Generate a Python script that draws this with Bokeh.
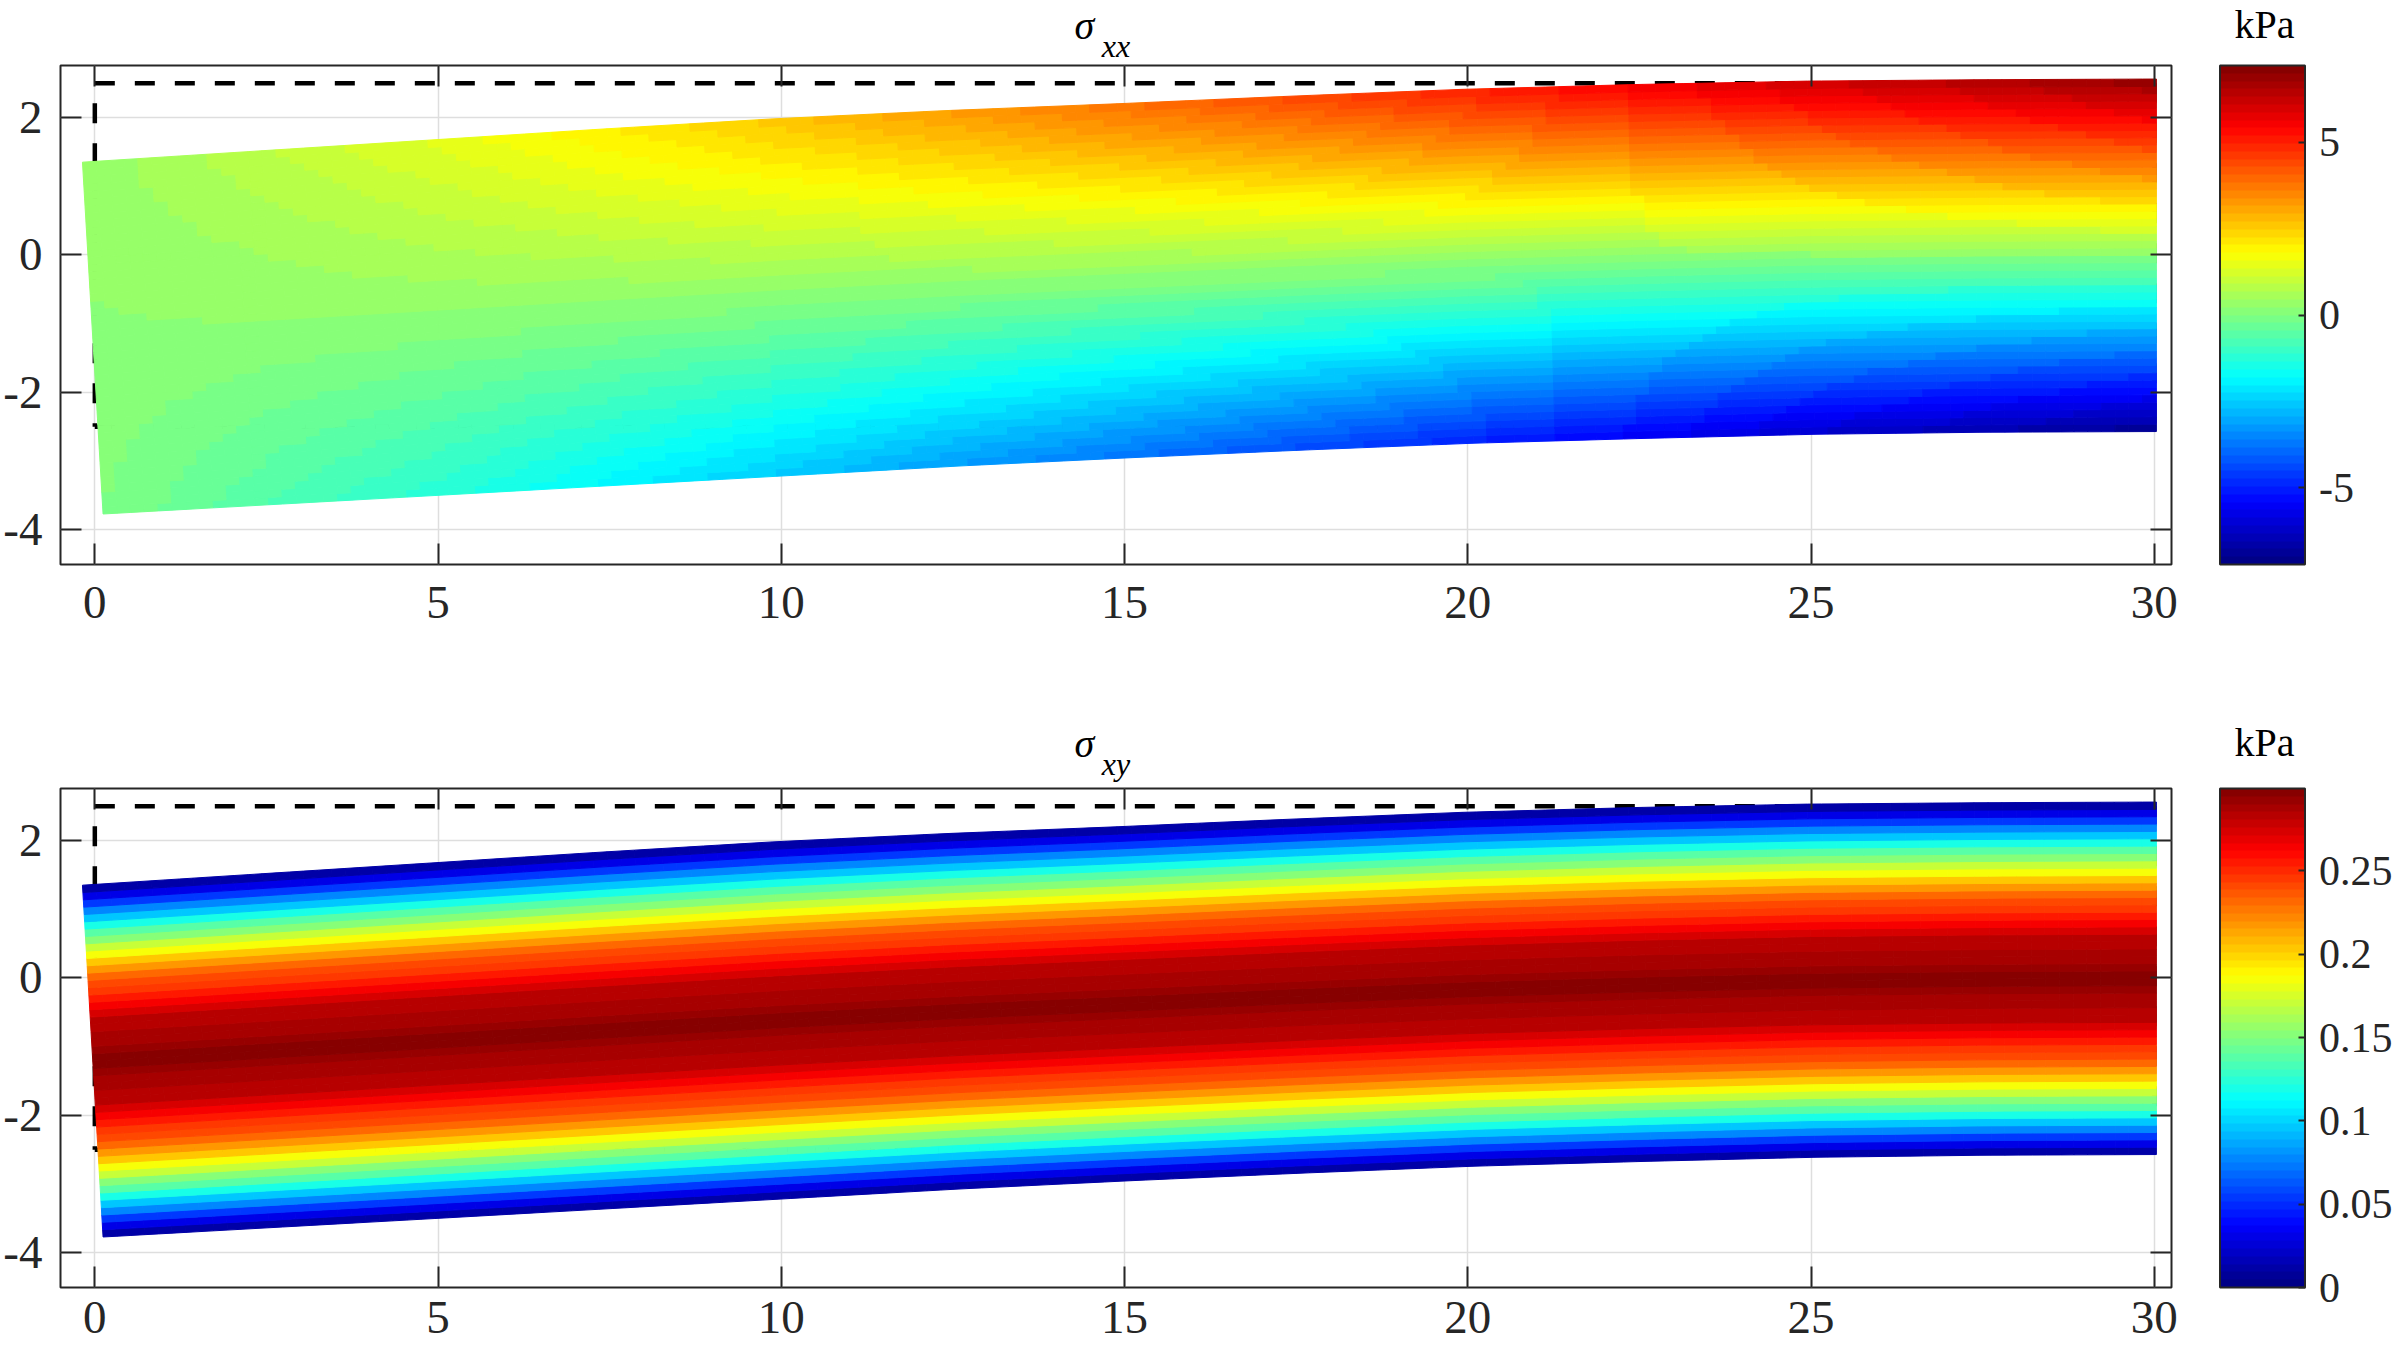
import numpy as np
from bokeh.plotting import figure
from bokeh.models import (ColumnDataSource, LinearColorMapper, ColorBar, FixedTicker,
                          LinearAxis, Range1d, Title)
from bokeh.layouts import column
from bokeh.embed import file_html
from bokeh.resources import INLINE

# ---------------- data ----------------
# deformed beam edges at material stations X (beam length 30, depth 5)
geom_X = [0, 2.5, 5, 7.5, 10, 12.5, 15, 17.5, 20, 22.5, 25, 27.5, 30]
top_edge_y = [1.35, 1.51, 1.67, 1.83, 1.98, 2.10, 2.20, 2.31, 2.41, 2.48, 2.53, 2.55, 2.56]
bottom_edge_y = [-3.77, -3.63, -3.49, -3.35, -3.21, -3.07, -2.95, -2.84, -2.74, -2.67,
                 -2.61, -2.58, -2.57]
top_edge_dx = [-0.18, -0.165, -0.15, -0.14, -0.13, -0.12, -0.11, -0.095, -0.08, -0.065,
               -0.05, -0.025, 0.03]
bottom_edge_dx = [0.12, 0.135, 0.15, 0.14, 0.13, 0.12, 0.11, 0.095, 0.08, 0.065,
                  0.05, 0.025, 0.03]

# undeformed outline (dashed)
undeformed_x = [0, 30]
undeformed_y = [-2.5, 2.5]

# sigma_xx (kPa) at stations X, for fibres Y = 2.5, 1.25, 0, -1.25, -2.5
sxx_X = [0, 2.5, 5, 10, 15, 20, 25, 30]
sxx_Y = [2.5, 1.25, 0.0, -1.25, -2.5]
sxx_top = [0.3, 0.85, 1.4, 2.6, 3.8, 5.0, 6.1, 7.0]
sxx_upper = [0.25, 0.5, 0.8, 1.4, 1.95, 2.55, 3.1, 3.6]
sxx_mid = [0.2, 0.2, 0.2, 0.15, 0.1, 0.1, 0.1, 0.15]
sxx_lower = [0.1, -0.25, -0.55, -1.2, -1.85, -2.45, -3.05, -3.45]
sxx_bottom = [0.0, -0.7, -1.3, -2.6, -3.8, -5.0, -6.2, -7.0]
sxx_clim = [-7.22, 7.22]
sxx_ticks = [-5, 0, 5]
sxx_tick_labels = ["-5", "0", "5"]

# sigma_xy (kPa) across the depth
sxy_Y = [2.5, 1.875, 1.25, 0.625, 0.0, -0.625, -1.25, -1.875, -2.5]
sxy_profile = [0.0, 0.13, 0.225, 0.28, 0.297, 0.28, 0.225, 0.13, 0.0]
sxy_clim = [0.0, 0.2995]
sxy_ticks = [0, 0.05, 0.1, 0.15, 0.2, 0.25]
sxy_tick_labels = ["0", "0.05", "0.1", "0.15", "0.2", "0.25"]

x_ticks = [0, 5, 10, 15, 20, 25, 30]
y_ticks = [-4, -2, 0, 2]
y_tick_labels = ["-4", "-2", "0", "2"]
titles = [("σ", "xx"), ("σ", "xy")]
unit_label = "kPa"

# ---------------- styling ----------------
FONT = "Liberation Serif"
DARK = "#262626"
FIG_W = 2396
FRAME_W, FRAME_H = 2111, 499

jet = []
for i in range(64):
    t = (i + 0.5) / 64
    r = min(max(1.5 - abs(4 * t - 3), 0), 1)
    g = min(max(1.5 - abs(4 * t - 2), 0), 1)
    b = min(max(1.5 - abs(4 * t - 1), 0), 1)
    jet.append("#%02x%02x%02x" % (round(r * 255), round(g * 255), round(b * 255)))

# ---------------- mesh of the deformed beam ----------------
nX, nY = 150, 48
Xn = np.linspace(0, 30, nX + 1)
Yn = np.linspace(-2.5, 2.5, nY + 1)
XX, YY = np.meshgrid(Xn, Yn)
s = (YY + 2.5) / 5.0
yt = np.interp(XX, geom_X, top_edge_y)
yb = np.interp(XX, geom_X, bottom_edge_y)
Ydef = yb + s * (yt - yb)
dxt = np.interp(XX, geom_X, top_edge_dx)
dxb = np.interp(XX, geom_X, bottom_edge_dx)
Xdef = XX + dxb + s * (dxt - dxb)

cx = np.stack([Xdef[:-1, :-1], Xdef[:-1, 1:], Xdef[1:, 1:], Xdef[1:, :-1]], axis=-1).reshape(-1, 4)
cy = np.stack([Ydef[:-1, :-1], Ydef[:-1, 1:], Ydef[1:, 1:], Ydef[1:, :-1]], axis=-1).reshape(-1, 4)
cell_xs = cx.tolist()
cell_ys = cy.tolist()

Xc = 0.5 * (Xn[:-1] + Xn[1:])
Yc = 0.5 * (Yn[:-1] + Yn[1:])

rows = np.array([np.interp(Xc, sxx_X, r) for r in
                 [sxx_top, sxx_upper, sxx_mid, sxx_lower, sxx_bottom]])
asc_Y = np.array(sxx_Y[::-1])
sxx_cells = np.empty((nY, nX))
for i in range(nX):
    sxx_cells[:, i] = np.interp(Yc, asc_Y, rows[::-1, i])

sxy_col = np.interp(Yc, np.array(sxy_Y[::-1]), np.array(sxy_profile[::-1]))
sxy_cells = np.repeat(sxy_col[:, None], nX, axis=1)


def make_panel(vals, clim, ticks, tick_labels, title, height, top_border, bottom_border,
               x_standoff, sub_standoff):
    p = figure(width=FIG_W, height=height, output_backend="svg", toolbar_location=None,
               x_range=Range1d(-0.5, 30.25), y_range=Range1d(-4.505, 2.757),
               min_border_left=60, min_border_right=FIG_W - 60 - FRAME_W,
               min_border_top=top_border, min_border_bottom=bottom_border,
               x_axis_location=None, y_axis_location=None)
    p.background_fill_color = "white"
    p.border_fill_color = "white"
    p.outline_line_color = DARK
    p.outline_line_width = 2

    def style_axis(ax, overrides=None, size="47px"):
        ax.axis_line_color = None
        ax.major_tick_in = 21
        ax.major_tick_out = 0
        ax.major_tick_line_color = DARK
        ax.major_tick_line_width = 2
        ax.minor_tick_line_color = None
        ax.major_label_text_font = FONT
        ax.major_label_text_font_size = size
        ax.major_label_text_color = DARK
        if overrides:
            ax.major_label_overrides = overrides

    xb = LinearAxis(ticker=FixedTicker(ticks=x_ticks))
    style_axis(xb)
    xb.major_label_standoff = x_standoff
    p.add_layout(xb, "below")
    yl = LinearAxis(ticker=FixedTicker(ticks=y_ticks))
    style_axis(yl, overrides={k: v for k, v in zip(y_ticks, y_tick_labels)})
    yl.major_label_standoff = 18
    p.add_layout(yl, "left")
    # top edge: tick marks, with the subscript of the title as the axis label
    xa = LinearAxis(ticker=FixedTicker(ticks=x_ticks))
    style_axis(xa, overrides={k: "" for k in x_ticks}, size="0px")
    xa.major_label_standoff = 0
    xa.axis_label = title[1]
    xa.axis_label_standoff = sub_standoff
    xa.axis_label_text_font = FONT
    xa.axis_label_text_font_size = "32px"
    xa.axis_label_text_font_style = "italic"
    xa.axis_label_text_color = "black"
    p.add_layout(xa, "above")
    yr = LinearAxis(ticker=FixedTicker(ticks=y_ticks))
    style_axis(yr, overrides={k: "" for k in y_ticks}, size="0px")
    yr.major_label_standoff = 0
    p.add_layout(yr, "right")

    # sigma of the title, and the unit over the colour bar (pulled down onto the axis label)
    p.add_layout(Title(text=title[0], align="left", offset=1014, standoff=-46,
                       vertical_align="bottom", text_font=FONT, text_font_style="italic",
                       text_font_size="40px", text_color="black"), "above")
    p.add_layout(Title(text=unit_label, align="right", offset=-123, standoff=-46,
                       vertical_align="bottom", text_font=FONT, text_font_style="normal",
                       text_font_size="40px", text_color="black"), "above")

    p.xgrid.ticker = FixedTicker(ticks=x_ticks)
    p.ygrid.ticker = FixedTicker(ticks=y_ticks)
    for gr in (p.xgrid, p.ygrid):
        gr.grid_line_color = "#dedede"
        gr.grid_line_width = 1.5

    # undeformed outline, dashed
    x0, x1 = undeformed_x
    y0, y1 = undeformed_y
    dash = dict(line_color="black", line_width=4.5, line_dash="20 20")
    p.line([x0, x1], [y1, y1], **dash)
    p.line([x0, x0], [y1, y0], line_dash_offset=20, **dash)
    p.line([x0, x1], [y0, y0], **dash)
    p.line([x1, x1], [y1, y0], **dash)

    mapper = LinearColorMapper(palette=jet, low=clim[0], high=clim[1])
    src = ColumnDataSource(dict(xs=cell_xs, ys=cell_ys, val=vals.ravel().tolist()))
    p.patches("xs", "ys", source=src,
              fill_color={"field": "val", "transform": mapper},
              line_color={"field": "val", "transform": mapper}, line_width=1)

    cb = ColorBar(color_mapper=mapper, location=(2159.5, 0), width=85, height=FRAME_H,
                  orientation="vertical", padding=0, margin=0,
                  ticker=FixedTicker(ticks=ticks),
                  major_label_overrides={k: v for k, v in zip(ticks, tick_labels)},
                  major_label_text_font=FONT, major_label_text_font_size="42px",
                  major_label_text_color=DARK, label_standoff=14,
                  major_tick_in=7, major_tick_out=0, major_tick_line_color=DARK,
                  major_tick_line_width=2, minor_tick_line_color=None,
                  bar_line_color=DARK, bar_line_width=2,
                  background_fill_alpha=0, border_line_color=None)
    p.add_layout(cb, "center")
    return p


# page rows: panel1 0-700 (box 65-564), panel2 700-1348 (box 788-1287)
p1 = make_panel(sxx_cells, sxx_clim, sxx_ticks, sxx_tick_labels, titles[0], 700, 65, 136, 22, 2)
p2 = make_panel(sxy_cells, sxy_clim, sxy_ticks, sxy_tick_labels, titles[1], 648, 88, 61, 14, 7)

layout = column(p1, p2, spacing=0)
open("out.html", "w").write(file_html(layout, INLINE))
